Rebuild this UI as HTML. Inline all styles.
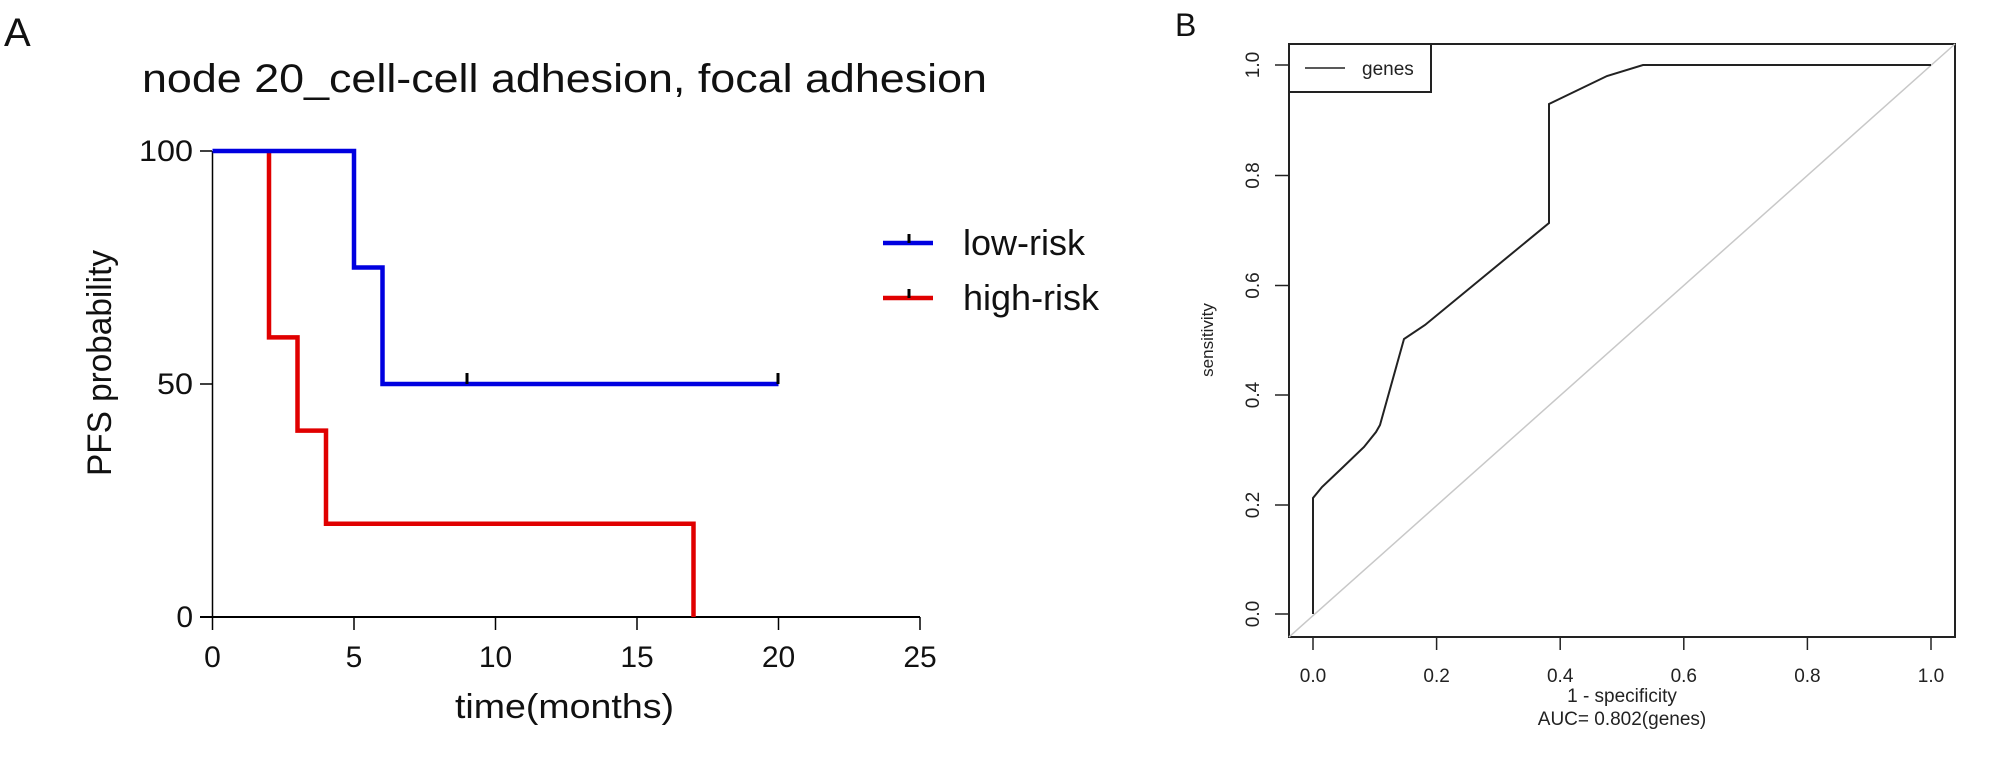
<!DOCTYPE html>
<html><head><meta charset="utf-8"><style>
html,body{margin:0;padding:0;background:#fff;}
svg{display:block;}
text{font-family:"Liberation Sans",sans-serif;}
</style></head><body>
<svg width="2008" height="762" viewBox="0 0 2008 762" xmlns="http://www.w3.org/2000/svg">
<rect width="2008" height="762" fill="#fff"/>
<!-- Panel A -->
<text x="4" y="46" font-size="40" fill="#111">A</text>
<text x="142" y="92" font-size="40" fill="#111" textLength="845" lengthAdjust="spacingAndGlyphs">node 20_cell-cell adhesion, focal adhesion</text>
<!-- axes -->
<line x1="212.5" y1="151" x2="212.5" y2="617" stroke="#000" stroke-width="1.5"/>
<line x1="200" y1="617" x2="920" y2="617" stroke="#000" stroke-width="2"/>
<g stroke="#000" stroke-width="1.5">
<line x1="200" y1="151" x2="212" y2="151"/>
<line x1="200" y1="384" x2="212" y2="384"/>
<line x1="212.5" y1="617" x2="212.5" y2="630"/>
<line x1="354" y1="617" x2="354" y2="630"/>
<line x1="495.5" y1="617" x2="495.5" y2="630"/>
<line x1="637" y1="617" x2="637" y2="630"/>
<line x1="778.5" y1="617" x2="778.5" y2="630"/>
<line x1="920" y1="617" x2="920" y2="630"/>
</g>
<g font-size="30" fill="#111" text-anchor="end">
<text x="193" y="161" textLength="54" lengthAdjust="spacingAndGlyphs">100</text>
<text x="193" y="394" textLength="36" lengthAdjust="spacingAndGlyphs">50</text>
<text x="193" y="627">0</text>
</g>
<g font-size="30" fill="#111" text-anchor="middle">
<text x="212.5" y="667">0</text>
<text x="354" y="667">5</text>
<text x="495.5" y="667">10</text>
<text x="637" y="667">15</text>
<text x="778.5" y="667">20</text>
<text x="920" y="667">25</text>
</g>
<text x="455" y="718" font-size="34" fill="#111" textLength="219" lengthAdjust="spacingAndGlyphs">time(months)</text>
<text transform="translate(111,363) rotate(-90)" font-size="34" fill="#111" text-anchor="middle" textLength="226" lengthAdjust="spacingAndGlyphs">PFS probability</text>
<!-- curves -->
<polyline fill="none" stroke="#e00000" stroke-width="4.5" points="269,151 269,337.4 297.5,337.4 297.5,430.6 326,430.6 326,523.8 693.5,523.8 693.5,617"/>
<polyline fill="none" stroke="#0000e0" stroke-width="4.5" points="212.5,151 354,151 354,267.5 382.5,267.5 382.5,384 778.5,384"/>
<g stroke="#000" stroke-width="3">
<line x1="467" y1="373" x2="467" y2="384"/>
<line x1="778" y1="373" x2="778" y2="384"/>
</g>
<!-- legend -->
<line x1="883" y1="243" x2="933" y2="243" stroke="#0000e0" stroke-width="4.5"/>
<line x1="909" y1="234" x2="909" y2="243" stroke="#000" stroke-width="3"/>
<line x1="883" y1="298" x2="933" y2="298" stroke="#e00000" stroke-width="4.5"/>
<line x1="909" y1="289" x2="909" y2="298" stroke="#000" stroke-width="3"/>
<text x="963" y="255" font-size="36" fill="#111">low-risk</text>
<text x="963" y="310" font-size="36" fill="#111">high-risk</text>

<!-- Panel B -->
<text x="1175" y="36" font-size="32" fill="#111">B</text>
<rect x="1289" y="44" width="666" height="593" fill="none" stroke="#222" stroke-width="2"/>
<line x1="1289" y1="637" x2="1955" y2="44" stroke="#c8c8c8" stroke-width="1.5"/>
<polyline fill="none" stroke="#222" stroke-width="2" points="1313,614 1313,498 1322,487 1340,470 1364,447 1376,432 1380,425 1404,339 1425,325 1549,223 1549,104 1607,76 1643,65 1931,65"/>
<rect x="1289" y="44" width="142" height="48" fill="#fff" stroke="#222" stroke-width="2"/>
<line x1="1305" y1="68" x2="1345" y2="68" stroke="#222" stroke-width="1.5"/>
<text x="1362" y="75" font-size="19" fill="#222">genes</text>
<g stroke="#222" stroke-width="1.5">
<line x1="1275" y1="65" x2="1289" y2="65"/>
<line x1="1275" y1="175.5" x2="1289" y2="175.5"/>
<line x1="1275" y1="285.5" x2="1289" y2="285.5"/>
<line x1="1275" y1="395" x2="1289" y2="395"/>
<line x1="1275" y1="505" x2="1289" y2="505"/>
<line x1="1275" y1="614" x2="1289" y2="614"/>
<line x1="1313" y1="637" x2="1313" y2="650"/>
<line x1="1436.6" y1="637" x2="1436.6" y2="650"/>
<line x1="1560.2" y1="637" x2="1560.2" y2="650"/>
<line x1="1683.8" y1="637" x2="1683.8" y2="650"/>
<line x1="1807.4" y1="637" x2="1807.4" y2="650"/>
<line x1="1931" y1="637" x2="1931" y2="650"/>
</g>
<g font-size="19" fill="#222" text-anchor="middle">
<text transform="translate(1259,65) rotate(-90)">1.0</text>
<text transform="translate(1259,175.5) rotate(-90)">0.8</text>
<text transform="translate(1259,285.5) rotate(-90)">0.6</text>
<text transform="translate(1259,395) rotate(-90)">0.4</text>
<text transform="translate(1259,505) rotate(-90)">0.2</text>
<text transform="translate(1259,614) rotate(-90)">0.0</text>
<text x="1313" y="682">0.0</text>
<text x="1436.6" y="682">0.2</text>
<text x="1560.2" y="682">0.4</text>
<text x="1683.8" y="682">0.6</text>
<text x="1807.4" y="682">0.8</text>
<text x="1931" y="682">1.0</text>
<text x="1622" y="702">1 - specificity</text>
<text x="1622" y="725">AUC= 0.802(genes)</text>
<text transform="translate(1213,340) rotate(-90)" font-size="17">sensitivity</text>
</g>
</svg>
</body></html>
